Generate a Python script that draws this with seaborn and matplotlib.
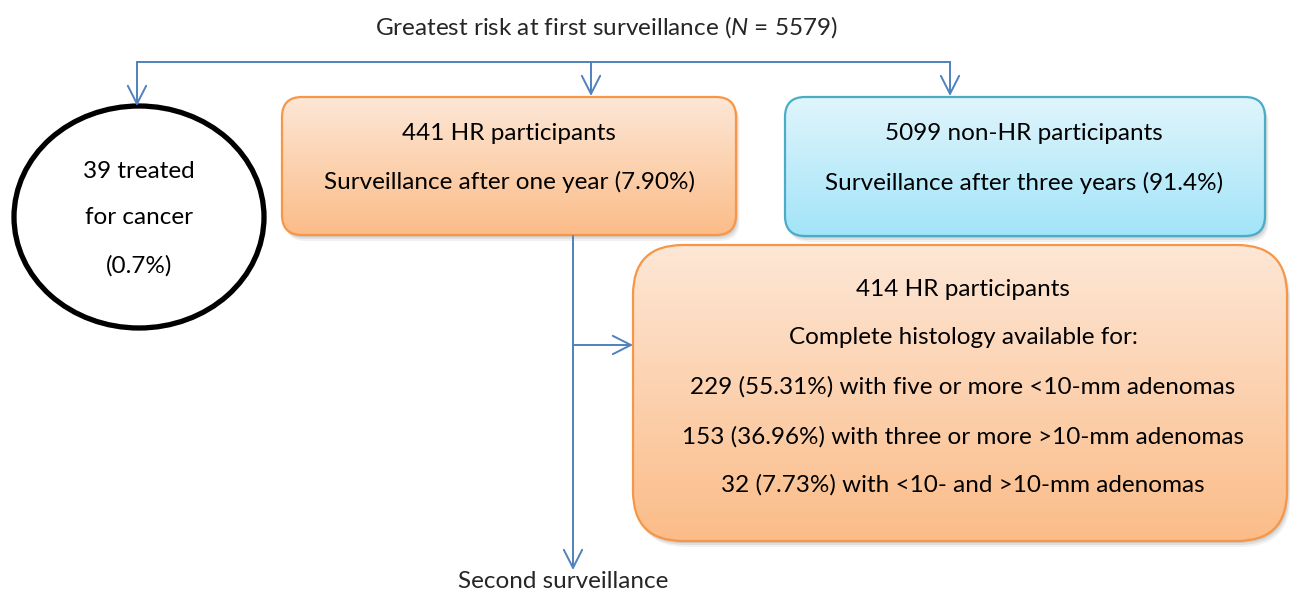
import numpy as np
import matplotlib.pyplot as plt
import seaborn as sns
from matplotlib.patches import FancyBboxPatch, Ellipse, FancyArrowPatch
from matplotlib.colors import LinearSegmentedColormap

sns.set_style("white")
plt.rcParams['font.family'] = ['Lato', 'DejaVu Sans']
plt.rcParams['mathtext.fontset'] = 'custom'
plt.rcParams['mathtext.rm'] = 'Lato'
plt.rcParams['mathtext.it'] = 'Lato:italic'

# %%
# texts of the flowchart
title_text = "Greatest risk at first surveillance ($\\it{N}$ = 5579)"
cancer_lines = ["39 treated", "for cancer", "(0.7%)"]
hr_lines = ["441 HR participants", "Surveillance after one year (7.90%)"]
nonhr_lines = ["5099 non-HR participants", "Surveillance after three years (91.4%)"]
histology_lines = ["414 HR participants",
                   "Complete histology available for:",
                   "229 (55.31%) with five or more <10-mm adenomas",
                   "153 (36.96%) with three or more >10-mm adenomas",
                   "32 (7.73%) with <10- and >10-mm adenomas"]
bottom_text = "Second surveillance"

# colours
arrow_col = "#4F81BD"
orange_top, orange_bot, orange_edge = "#FDE7D6", "#FBBC88", "#F79646"
blue_top, blue_bot, blue_edge = "#E0F5FC", "#A2E4F8", "#4BACC6"
FS = 17.5


def gradient_box(ax, x0, y0, w, h, r, top, bottom, edge):
    style = "round,pad=0,rounding_size=%d" % r
    # soft shadow
    for k, a in [(6, 0.08), (4, 0.12), (2, 0.15)]:
        ax.add_patch(FancyBboxPatch((x0 + k * 0.6, y0 + k), w, h, boxstyle=style,
                                    fc="0.35", ec="none", alpha=a, zorder=1))
    box = FancyBboxPatch((x0, y0), w, h, boxstyle=style, fc="none",
                         ec=edge, lw=1.6, zorder=3)
    ax.add_patch(box)
    grad = np.linspace(0, 1, 256)[:, None]
    cmap = LinearSegmentedColormap.from_list("g", [top, bottom])
    im = ax.imshow(grad, extent=(x0, x0 + w, y0 + h, y0), cmap=cmap,
                   aspect="auto", zorder=2)
    im.set_clip_path(box)


def arrow(ax, p0, p1):
    ax.add_patch(FancyArrowPatch(p0, p1, arrowstyle="->,head_length=0.65,head_width=0.33",
                                 mutation_scale=20, color=arrow_col, lw=1.4,
                                 shrinkA=0, shrinkB=0, zorder=4))


def lines_text(ax, x, ys, lines):
    for y, s in zip(ys, lines):
        ax.text(x, y, s, ha="center", va="center", fontsize=FS, color="black", zorder=5)


fig = plt.figure(figsize=(12.9, 5.94), dpi=100)
ax = fig.add_axes([0, 0, 1, 1])

# title
ax.text(606, 27, title_text, ha="center", va="center", fontsize=FS)

# connectors
ax.plot([137, 950], [62, 62], color=arrow_col, lw=1.4, zorder=4)
arrow(ax, (137, 62), (137, 106))
arrow(ax, (591, 62), (591, 96))
arrow(ax, (950, 62), (950, 96))
arrow(ax, (573, 236), (573, 570))
arrow(ax, (573, 345), (633, 345))

# cancer ellipse
ax.add_patch(Ellipse((139, 217), 250, 222, fc="white", ec="black", lw=3.8, zorder=3))
lines_text(ax, 139, [171, 218, 266], cancer_lines)

# boxes
gradient_box(ax, 282, 97, 454, 138, 20, orange_top, orange_bot, orange_edge)
lines_text(ax, 509, [133, 182], hr_lines)

gradient_box(ax, 785, 97, 480, 139, 20, blue_top, blue_bot, blue_edge)
lines_text(ax, 1024, [133, 183], nonhr_lines)

gradient_box(ax, 633, 245, 654, 296, 50, orange_top, orange_bot, orange_edge)
lines_text(ax, 963, [290, 338, 387, 437, 485], histology_lines)

ax.text(563, 582, bottom_text, ha="center", va="center", fontsize=FS)

ax.set_xlim(0, 1290)
ax.set_ylim(594, 0)
ax.axis("off")
plt.savefig("out.png", dpi=100)
